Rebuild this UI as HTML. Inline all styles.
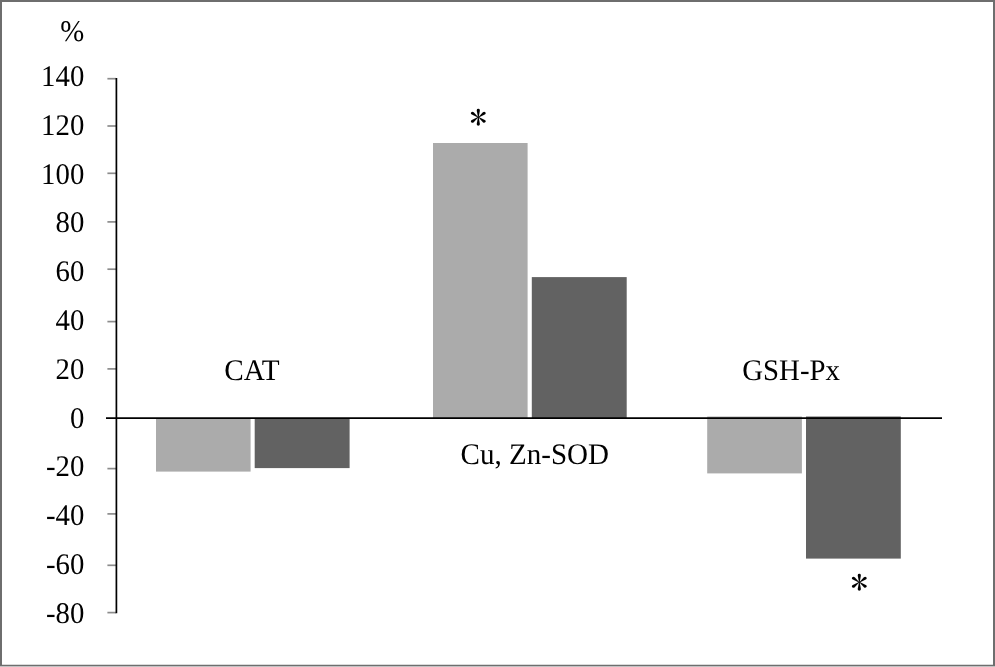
<!DOCTYPE html>
<html>
<head>
<meta charset="utf-8">
<title>Chart</title>
<style>
html,body{margin:0;padding:0;background:#fff;}
body{width:995px;height:667px;overflow:hidden;}
svg{display:block;position:absolute;left:0;top:0;}
text{font-family:"Liberation Serif","Times New Roman",serif;fill:#000;text-rendering:geometricPrecision;}
text.s{font-family:"IPAGothic","Liberation Serif",serif;}
.lt{fill:#ababab;}
.dk{fill:#626262;}
.tk{stroke:#8c8c8c;stroke-width:1.7;}
.ax{stroke:#000;}
.bd{fill:#6e6e6e;}
</style>
</head>
<body>
<svg width="995" height="667" viewBox="0 0 995 667">
<rect x="0" y="0" width="995" height="667" fill="#ffffff"/>
<!-- outer border -->
<rect class="bd" x="0" y="0" width="995" height="2"/>
<rect class="bd" x="0" y="0" width="2" height="667"/>
<rect class="bd" x="993" y="0" width="2" height="667"/>
<rect class="bd" x="0" y="664.75" width="995" height="1.25"/>
<rect x="0" y="666" width="995" height="1" fill="#c2c2c2"/>
<!-- bars -->
<rect class="lt" x="156" y="418" width="94.6" height="53.6"/>
<rect class="dk" x="254.7" y="418" width="94.9" height="50.1"/>
<rect class="lt" x="433" y="143" width="94.6" height="275.5"/>
<rect class="dk" x="531.8" y="277.1" width="94.9" height="141.4"/>
<rect class="lt" x="707.2" y="416.5" width="94.7" height="56.9"/>
<rect class="dk" x="806" y="416.5" width="94.8" height="142.1"/>
<!-- ticks -->
<line class="tk" x1="107.4" y1="78.7" x2="116" y2="78.7"/>
<line class="tk" x1="107.4" y1="126.0" x2="116" y2="126.0"/>
<line class="tk" x1="107.4" y1="173.3" x2="116" y2="173.3"/>
<line class="tk" x1="107.4" y1="221.9" x2="116" y2="221.9"/>
<line class="tk" x1="107.4" y1="269.2" x2="116" y2="269.2"/>
<line class="tk" x1="107.4" y1="321.6" x2="116" y2="321.6"/>
<line class="tk" x1="107.4" y1="368.9" x2="116" y2="368.9"/>
<line class="tk" x1="107.4" y1="468.6" x2="116" y2="468.6"/>
<line class="tk" x1="107.4" y1="513.9" x2="116" y2="513.9"/>
<line class="tk" x1="107.4" y1="565.3" x2="116" y2="565.3"/>
<line class="tk" x1="107.4" y1="612.6" x2="116" y2="612.6"/>
<!-- axes -->
<line class="ax" x1="116.4" y1="78" x2="116.4" y2="613.3" stroke-width="1.7"/>
<line class="ax" x1="106" y1="418.15" x2="942" y2="418.15" stroke-width="1.6"/>
<!-- y axis labels -->
<text class="t" transform="translate(84.30 41.10) scale(1 1.04)" text-anchor="end" font-size="28.8">%</text>
<text class="t" transform="translate(84.30 86.20) scale(1 1.04)" text-anchor="end" font-size="28.8">140</text>
<text class="t" transform="translate(84.30 134.96) scale(1 1.04)" text-anchor="end" font-size="28.8">120</text>
<text class="t" transform="translate(84.30 183.72) scale(1 1.04)" text-anchor="end" font-size="28.8">100</text>
<text class="t" transform="translate(84.30 232.48) scale(1 1.04)" text-anchor="end" font-size="28.8">80</text>
<text class="t" transform="translate(84.30 281.24) scale(1 1.04)" text-anchor="end" font-size="28.8">60</text>
<text class="t" transform="translate(84.30 330.00) scale(1 1.04)" text-anchor="end" font-size="28.8">40</text>
<text class="t" transform="translate(84.30 378.76) scale(1 1.04)" text-anchor="end" font-size="28.8">20</text>
<text class="t" transform="translate(84.30 427.52) scale(1 1.04)" text-anchor="end" font-size="28.8">0</text>
<text class="t" transform="translate(84.30 476.28) scale(1 1.04)" text-anchor="end" font-size="28.8">-20</text>
<text class="t" transform="translate(84.30 525.04) scale(1 1.04)" text-anchor="end" font-size="28.8">-40</text>
<text class="t" transform="translate(84.30 573.80) scale(1 1.04)" text-anchor="end" font-size="28.8">-60</text>
<text class="t" transform="translate(84.30 622.56) scale(1 1.04)" text-anchor="end" font-size="28.8">-80</text>
<!-- category labels -->
<text class="t" transform="translate(224.30 379.50) scale(1.015 1.04)" text-anchor="start" font-size="28.8">CAT</text>
<text class="t" transform="translate(460.60 463.90) scale(1.008 1.04)" text-anchor="start" font-size="28.8">Cu, Zn-SOD</text>
<text class="t" transform="translate(742.30 380.20) scale(1 1.04)" text-anchor="start" font-size="28.8">GSH-Px</text>
<!-- significance stars -->
<text class="s" transform="translate(478.40 130.16) scale(1.05 1.0)" text-anchor="middle" font-size="33.6">*</text>
<text class="s" transform="translate(859.30 595.06) scale(1.05 1.0)" text-anchor="middle" font-size="33.6">*</text>
</svg>
</body>
</html>
